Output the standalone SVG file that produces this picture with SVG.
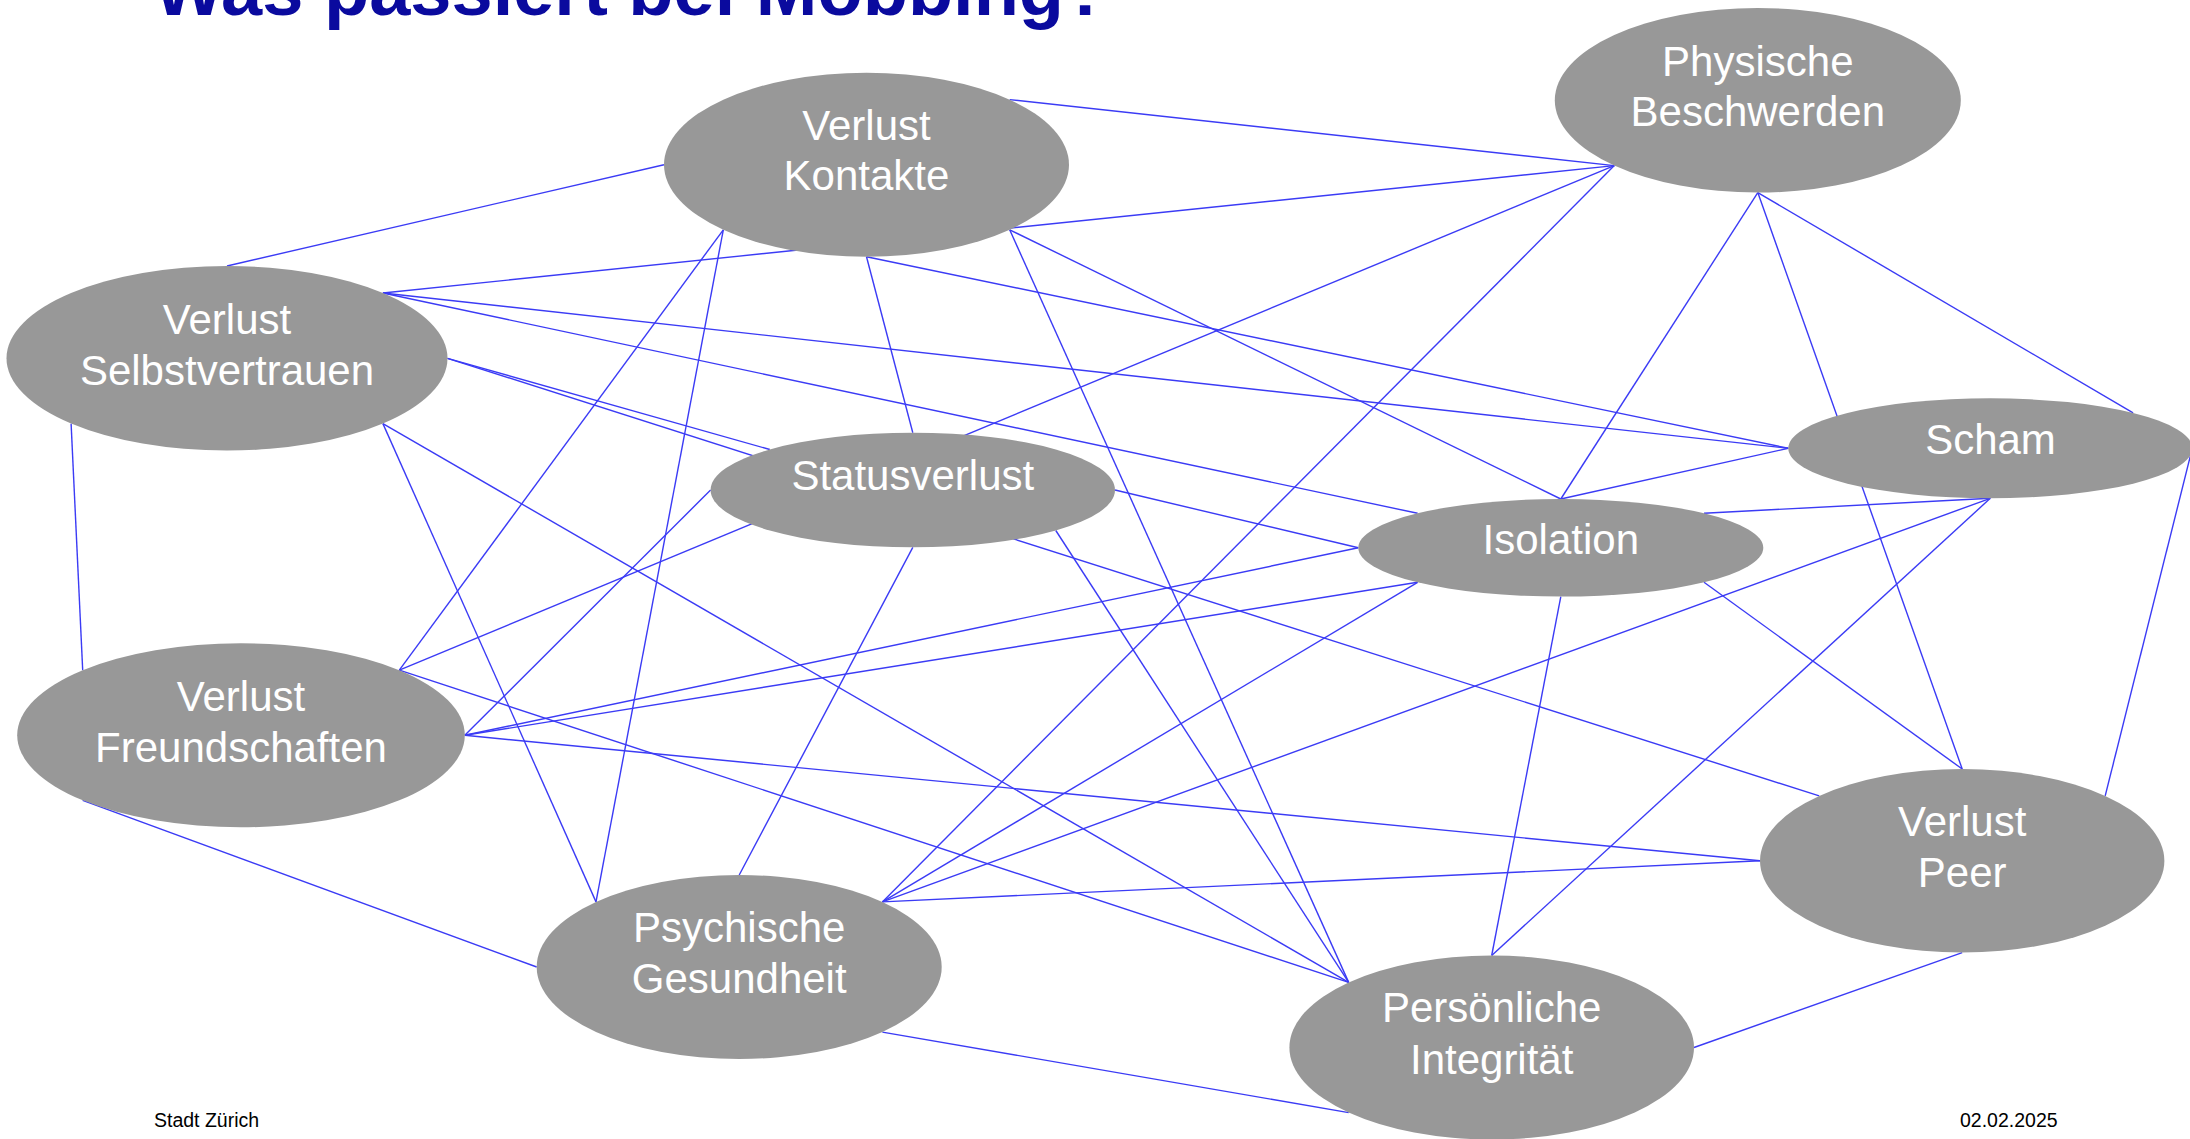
<svg xmlns="http://www.w3.org/2000/svg" width="2190" height="1139" viewBox="0 0 2190 1139">
<style>
.bg{fill:#ffffff}
.title{font-family:"Liberation Sans",Arial,sans-serif;font-weight:bold;font-size:74px;fill:#0a0a9e}
.foot{font-family:"Liberation Sans",Arial,sans-serif;font-size:19.5px;fill:#000000}
.node ellipse{fill:#989898}
.node text{font-family:"Liberation Sans",Arial,sans-serif;font-size:42px;fill:#ffffff;text-anchor:middle}
#connectors line{stroke:#3b3bf5;stroke-width:1.4;fill:none}
</style>
<rect class="bg" x="0" y="0" width="2190" height="1139"/>
<text class="title" x="154" y="15">Was passiert bei Mobbing?</text>
<g id="connectors">
<line x1="1009.7" y1="99.6" x2="1614.3" y2="165.6"/>
<line x1="664" y1="164.7" x2="227" y2="266"/>
<line x1="382.9" y1="293" x2="1614.3" y2="165.6"/>
<line x1="382.9" y1="293" x2="1788.3" y2="448.3"/>
<line x1="382.9" y1="293" x2="1417.6" y2="513.3"/>
<line x1="866.5" y1="256.7" x2="912.8" y2="432.7"/>
<line x1="866.5" y1="256.7" x2="1788.3" y2="448.3"/>
<line x1="723.3" y1="229.8" x2="399.3" y2="670.2"/>
<line x1="723.3" y1="229.8" x2="596" y2="901.9"/>
<line x1="1009.7" y1="229.8" x2="1560.8" y2="499"/>
<line x1="1009.7" y1="229.8" x2="1348.7" y2="982.4"/>
<line x1="1614.3" y1="165.6" x2="399.3" y2="670.2"/>
<line x1="1614.3" y1="165.6" x2="882.4" y2="901.9"/>
<line x1="1757.8" y1="192.6" x2="1560.8" y2="499"/>
<line x1="1757.8" y1="192.6" x2="1962.2" y2="769"/>
<line x1="1757.8" y1="192.6" x2="2133.1" y2="412.9"/>
<line x1="1788.3" y1="448.3" x2="1560.8" y2="499"/>
<line x1="1990.3" y1="498.3" x2="1704" y2="513.3"/>
<line x1="1990.3" y1="498.3" x2="882.4" y2="901.9"/>
<line x1="1990.3" y1="498.3" x2="1491.7" y2="955.5"/>
<line x1="2192.3" y1="448.3" x2="2105.2" y2="795.9"/>
<line x1="447.5" y1="358.3" x2="769.8" y2="449.5"/>
<line x1="447.5" y1="358.3" x2="1819.2" y2="795.9"/>
<line x1="71.1" y1="423.6" x2="82.7" y2="670.2"/>
<line x1="382.9" y1="423.6" x2="596" y2="901.9"/>
<line x1="382.9" y1="423.6" x2="1348.7" y2="982.4"/>
<line x1="710.6" y1="490" x2="464.8" y2="735.3"/>
<line x1="912.8" y1="547.3" x2="739.2" y2="875"/>
<line x1="1055.8" y1="530.5" x2="1348.7" y2="982.4"/>
<line x1="1115" y1="490" x2="1358.3" y2="547.8"/>
<line x1="1358.3" y1="547.8" x2="464.8" y2="735.3"/>
<line x1="1417.6" y1="582.3" x2="464.8" y2="735.3"/>
<line x1="1417.6" y1="582.3" x2="882.4" y2="901.9"/>
<line x1="1704" y1="582.3" x2="1962.2" y2="769"/>
<line x1="1560.8" y1="596.6" x2="1491.7" y2="955.5"/>
<line x1="399.3" y1="670.2" x2="1348.7" y2="982.4"/>
<line x1="464.8" y1="735.3" x2="1760" y2="860.8"/>
<line x1="82.7" y1="800.4" x2="536.7" y2="967"/>
<line x1="882.4" y1="901.9" x2="1760" y2="860.8"/>
<line x1="882.4" y1="1032.1" x2="1348.7" y2="1112.6"/>
<line x1="1694" y1="1047.5" x2="1962.2" y2="952.6"/>
</g>
<g id="node-verlust-kontakte" class="node">
<ellipse cx="866.5" cy="164.7" rx="202.5" ry="92"/>
<text x="866.5" y="140">Verlust</text>
<text x="866.5" y="190">Kontakte</text>
</g>
<g id="node-verlust-selbstvertrauen" class="node">
<ellipse cx="227" cy="358.3" rx="220.5" ry="92.3"/>
<text x="227" y="333.5">Verlust</text>
<text x="227" y="385">Selbstvertrauen</text>
</g>
<g id="node-physische-beschwerden" class="node">
<ellipse cx="1757.8" cy="100.3" rx="203" ry="92.3"/>
<text x="1757.8" y="76">Physische</text>
<text x="1757.8" y="126">Beschwerden</text>
</g>
<g id="node-scham" class="node">
<ellipse cx="1990.3" cy="448.3" rx="202" ry="50"/>
<text x="1990.5" y="453.5">Scham</text>
</g>
<g id="node-statusverlust" class="node">
<ellipse cx="912.8" cy="490" rx="202.2" ry="57.3"/>
<text x="912.8" y="490">Statusverlust</text>
</g>
<g id="node-isolation" class="node">
<ellipse cx="1560.8" cy="547.8" rx="202.5" ry="48.8"/>
<text x="1560.8" y="554">Isolation</text>
</g>
<g id="node-verlust-freundschaften" class="node">
<ellipse cx="241" cy="735.3" rx="223.8" ry="92"/>
<text x="241" y="710.7">Verlust</text>
<text x="241" y="761.7">Freundschaften</text>
</g>
<g id="node-psychische-gesundheit" class="node">
<ellipse cx="739.2" cy="967" rx="202.5" ry="92"/>
<text x="739.2" y="941.7">Psychische</text>
<text x="739.2" y="992.7">Gesundheit</text>
</g>
<g id="node-persoenliche-integritaet" class="node">
<ellipse cx="1491.7" cy="1047.5" rx="202.3" ry="92"/>
<text x="1491.7" y="1022.3">Persönliche</text>
<text x="1491.7" y="1074">Integrität</text>
</g>
<g id="node-verlust-peer" class="node">
<ellipse cx="1962.2" cy="860.8" rx="202.2" ry="91.8"/>
<text x="1962.2" y="836">Verlust</text>
<text x="1962.2" y="886.7">Peer</text>
</g>
<text class="foot" x="154" y="1127">Stadt Zürich</text>
<text class="foot" x="1960" y="1127">02.02.2025</text>
</svg>
